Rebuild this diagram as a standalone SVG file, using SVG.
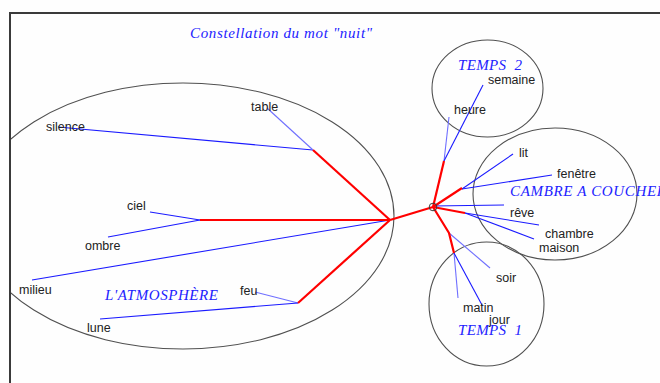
<svg xmlns="http://www.w3.org/2000/svg" width="660" height="383" viewBox="0 0 660 383">
<defs>
<clipPath id="inside"><rect x="10" y="13" width="650" height="370"/></clipPath>
</defs>
<style>
.frame{fill:none;stroke:#3a3a3a;stroke-width:2}
.cl{fill:none;stroke:#505050;stroke-width:1.1}
.r{fill:none;stroke:#ff0000;stroke-width:2.2;stroke-linejoin:round}
.b{stroke:#1a1aff;stroke-width:1.1}
.lb{stroke:#6f6fff;stroke-width:1.1}
.w{font-family:"Liberation Sans",Arial,sans-serif;font-size:12.5px;fill:#222}
.t{font-family:"Liberation Serif","Times New Roman",serif;font-style:italic;font-size:15px;fill:#2222ff}
</style>
<rect width="660" height="383" fill="#fefefe"/>
<text class="t" x="190" y="38" textLength="182" lengthAdjust="spacing">Constellation du mot "nuit"</text>

<g id="cluster-atmosphere">
<ellipse class="cl" cx="183" cy="216" rx="211" ry="133" clip-path="url(#inside)"/>
<text class="t" x="105" y="300" textLength="113" lengthAdjust="spacing">L'ATMOSPHÈRE</text>
</g>
<g id="cluster-temps2">
<ellipse class="cl" cx="487.5" cy="88.5" rx="55.5" ry="48.5"/>
<text class="t" x="458" y="70" textLength="64" lengthAdjust="spacing" xml:space="preserve">TEMPS  2</text>
</g>
<g id="cluster-cambre">
<ellipse class="cl" cx="555" cy="194" rx="82" ry="66"/>
<text class="t" x="510" y="196" textLength="156" lengthAdjust="spacing">CAMBRE A COUCHER</text>
</g>
<g id="cluster-temps1">
<ellipse class="cl" cx="486.5" cy="304" rx="57.5" ry="62"/>
<text class="t" x="458" y="335" textLength="64" lengthAdjust="spacing" xml:space="preserve">TEMPS  1</text>
</g>
<path class="frame" d="M10,383 V13 H660"/>

<g id="connectors">
<line class="b" x1="313" y1="150" x2="58" y2="127"/>
<line class="lb" x1="313" y1="150" x2="267" y2="108"/>
<line class="b" x1="200" y1="220" x2="150" y2="212"/>
<line class="b" x1="200" y1="220" x2="108" y2="237"/>
<line class="b" x1="390" y1="220" x2="32" y2="280"/>
<line class="lb" x1="298" y1="303" x2="255" y2="292"/>
<line class="b" x1="298" y1="303" x2="100" y2="319"/>
<line class="lb" x1="444" y1="161" x2="449" y2="117"/>
<line class="b" x1="444" y1="161" x2="483" y2="85"/>
<line class="b" x1="462" y1="189" x2="513" y2="154"/>
<line class="b" x1="462" y1="189" x2="552" y2="175"/>
<line class="b" x1="433" y1="206" x2="504" y2="205"/>
<line class="b" x1="465" y1="213" x2="539" y2="225"/>
<line class="b" x1="465" y1="213" x2="534" y2="239"/>
<line class="lb" x1="449" y1="233" x2="490" y2="268"/>
<line class="lb" x1="454" y1="253" x2="458" y2="298"/>
<line class="b" x1="454" y1="253" x2="482" y2="305"/>
<path class="r" d="M390,220 L313,150"/>
<path class="r" d="M390,220 L200,220"/>
<path class="r" d="M390,220 L298,303"/>
<path class="r" d="M390,220 L433,207"/>
<path class="r" d="M433,207 L444,161"/>
<path class="r" d="M433,207 L462,188"/>
<path class="r" d="M433,207 L465,213"/>
<path class="r" d="M433,207 L449,233 L454,253"/>
<circle cx="433" cy="207" r="3.8" fill="none" stroke="#3a3a3a" stroke-width="1"/>
</g>

<g id="n-silence"><text class="w" x="46" y="131">silence</text></g>
<g id="n-table"><text class="w" x="251" y="111">table</text></g>
<g id="n-ciel"><text class="w" x="127" y="210">ciel</text></g>
<g id="n-ombre"><text class="w" x="85" y="250">ombre</text></g>
<g id="n-milieu"><text class="w" x="19" y="294">milieu</text></g>
<g id="n-feu"><text class="w" x="240" y="295">feu</text></g>
<g id="n-lune"><text class="w" x="87" y="332">lune</text></g>
<g id="n-heure"><text class="w" x="454" y="114">heure</text></g>
<g id="n-semaine"><text class="w" x="488" y="84">semaine</text></g>
<g id="n-lit"><text class="w" x="519" y="157">lit</text></g>
<g id="n-fenetre"><text class="w" x="557" y="178">fenêtre</text></g>
<g id="n-reve"><text class="w" x="510" y="217">rêve</text></g>
<g id="n-chambre"><text class="w" x="545" y="238">chambre</text></g>
<g id="n-maison"><text class="w" x="539" y="252">maison</text></g>
<g id="n-soir"><text class="w" x="496" y="282">soir</text></g>
<g id="n-matin"><text class="w" x="463" y="312">matin</text></g>
<g id="n-jour"><text class="w" x="489" y="324">jour</text></g>
</svg>
